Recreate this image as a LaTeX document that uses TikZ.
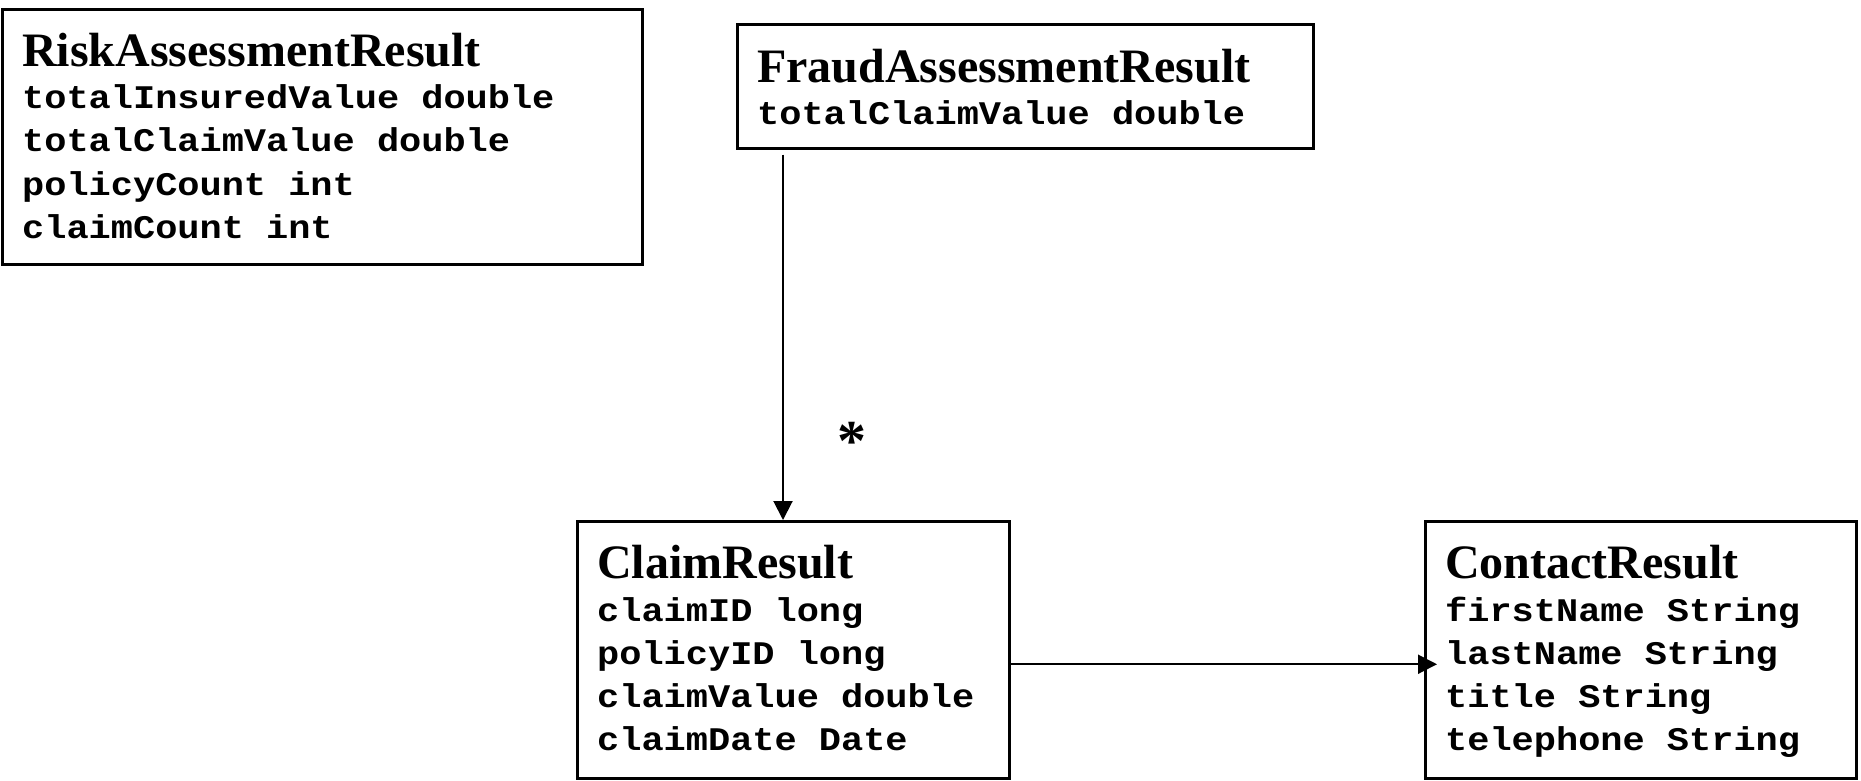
\documentclass[tikz,border=0pt]{standalone}
\usepackage{fontspec}
\setmainfont{Liberation Serif}
\newfontfamily\monob{Liberation Mono}[FakeStretch=1.12]
\usetikzlibrary{arrows.meta,calc}
\begin{document}
\begin{tikzpicture}[x=1pt,y=-1pt,
  classbox/.style={draw=black, line width=2.5pt, fill=white, inner sep=0pt, anchor=north west},
  ttl/.style={anchor=base west, inner sep=0pt, font=\fontsize{48}{48}\selectfont\bfseries},
  attr/.style={anchor=base west, inner sep=0pt, font=\fontsize{33}{33}\monob\bfseries},
  conn/.style={line width=2pt, -{Triangle[length=19pt,width=19pt]}},
  mult/.style={anchor=base, inner sep=0pt, font=\fontsize{58}{58}\selectfont\bfseries}
]
\useasboundingbox (0,0) rectangle (1861,780);

% boxes
\node[classbox, minimum width=640pt, minimum height=255pt] (risk) at (1,8) {};
\node[classbox, minimum width=576pt, minimum height=124pt] (fraud) at (736,23) {};
\node[classbox, minimum width=432pt, minimum height=257pt] (claim) at (576,520) {};
\node[classbox, minimum width=431pt, minimum height=257pt] (contact) at (1424,520) {};

% RiskAssessmentResult
\node[ttl] (riskT) at (22,66) {RiskAssessmentResult};
\node[attr] (riskA1) at (22,108) {totalInsuredValue double};
\node[attr] (riskA2) at (22,151) {totalClaimValue double};
\node[attr] (riskA3) at (22,195) {policyCount int};
\node[attr] (riskA4) at (22,238) {claimCount int};

% FraudAssessmentResult
\node[ttl] (fraudT) at (757,82) {FraudAssessmentResult};
\node[attr] (fraudA1) at (757,124) {totalClaimValue double};

% ClaimResult
\node[ttl] (claimT) at (597,578) {ClaimResult};
\node[attr] (claimA1) at (597,621) {claimID long};
\node[attr] (claimA2) at (597,664) {policyID long};
\node[attr] (claimA3) at (597,707) {claimValue double};
\node[attr] (claimA4) at (597,750) {claimDate Date};

% ContactResult
\node[ttl] (contactT) at (1445,578) {ContactResult};
\node[attr] (contactA1) at (1445,621) {firstName String};
\node[attr] (contactA2) at (1445,664) {lastName String};
\node[attr] (contactA3) at (1445,707) {title String};
\node[attr] (contactA4) at (1445,750) {telephone String};

% connectors
\draw[conn, shorten <=5pt] ($(fraud.south west)+(47,0)$) -- ($(claim.north west)+(207,0)$);
\node[mult] (star) at (852,460) {*};
\draw[conn, shorten >=-13pt] ($(claim.east)+(0,14.5)$) -- ($(contact.west)+(0,14.5)$);
\end{tikzpicture}
\end{document}
